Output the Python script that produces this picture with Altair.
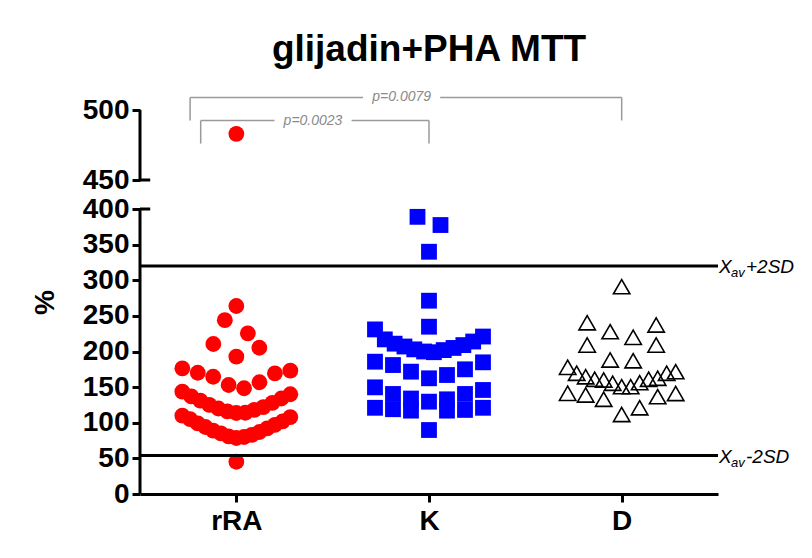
import altair as alt
import pandas as pd

# ---------------- data ----------------
CATEGORIES = ["rRA", "K", "D"]
RRA = [483, 263.9, 244, 225.5, 210.5, 205.3, 192.7, 176.4, 173.1, 170.2, 169.4,
       164.6, 156.8, 153, 148.4, 143.6, 140, 137, 134, 131, 128, 125, 122, 120,
       118, 116, 114, 113.7, 110, 108, 105, 102, 99, 97, 94, 92, 89, 87, 85, 83,
       81, 80, 78.6, 45.3]
K = [389, 377.5, 340, 271.3, 234.8, 231, 221, 217, 214, 211, 209, 207, 205, 203,
     202, 200, 199, 185.7, 184.8, 181, 175, 171.7, 167, 162.4, 149.7, 146, 140.4,
     140.4, 134, 132.9, 129.6, 121, 121, 119, 118, 117, 117, 89.8]
D = [291, 240.4, 237.2, 227.8, 219.9, 209, 209, 188, 187, 177.8, 171.7, 169.4,
     169.4, 164.6, 162.4, 161, 161, 160, 156.2, 155.4, 150.6, 150.6, 141.3, 141,
     139, 136.6, 133, 121, 111.5]
Y_TICKS = [0, 50, 100, 150, 200, 250, 300, 350, 400, 450, 500]
Y_SEGMENTS = [(0, 400), (450, 500)]      # broken axis: two pieces
REF_LINES = [320, 54]
REF_SIGNS = ["+2SD", "-2SD"]
P_TEXTS = ["p=0.0079", "p=0.0023"]
BRACKET_LEFT = [0.76, 0.815]
BRACKET_RIGHT = [3.0, 2.0]
BRACKET_TEXT_X = [1.858, 1.398]
BRACKET_TOP = [509, 492.5]
BRACKET_BOTTOM = [492.5, 476]
TITLE = "glijadin+PHA MTT"

# ---------------- layout parameters ----------------
W = 578
H = 384
FONT = "Liberation Sans"
PX_PER_X = W / 3.0
# piecewise y scale: lower part 0-400 (285 px), gap, upper part 450-500 (70 px)
Y_DOMAIN = [0, 400, 450, 500]
Y_RANGE = [H, 99, 70, 0]


def swarm(values, bin_units=32, d=23, wmax=108):
    """Prism-like column scatter: values binned, spread side by side."""
    vals = sorted(values)
    bins, cur, start = [], [], None
    for v in vals:
        if start is None or v > start + bin_units:
            if cur:
                bins.append(cur)
            cur, start = [v], v
        else:
            cur.append(v)
    bins.append(cur)
    out = []
    for b in bins:
        n = len(b)
        sp = d if n == 1 else min(d, wmax / (n - 1))
        if n % 2 == 1:
            slots = [0] + [s * k for k in range(1, n // 2 + 1) for s in (1, -1)]
        else:
            slots = [s * (k - 0.5) for k in range(1, n // 2 + 1) for s in (1, -1)]
        for v, sl in zip(b, slots):
            out.append((v, sl * sp / PX_PER_X))
    return out


rows = []
for i, (name, vals) in enumerate(zip(CATEGORIES, [RRA, K, D])):
    for v, off in swarm(vals):
        rows.append({"group": name, "value": v, "x": i + 1 + off})
pts = pd.DataFrame(rows)

xscale = alt.Scale(domain=[0.5, 3.5], nice=False, zero=False)
yscale = alt.Scale(domain=Y_DOMAIN, range=Y_RANGE, nice=False, zero=False)

label_expr = " : ".join(
    f"datum.value == {i + 1} ? '{c}'" for i, c in enumerate(CATEGORIES[:-1])
) + f" : '{CATEGORIES[-1]}'"

common_axis = dict(domainWidth=3, domainColor="black", tickWidth=3, tickColor="black",
                   tickSize=8, labelFont=FONT, labelFontWeight="bold", labelFontSize=28,
                   labelColor="black", grid=False)

xaxis = alt.Axis(values=[1, 2, 3], labelExpr=label_expr, labelPadding=5, title=None,
                 **common_axis)
yaxis = alt.Axis(values=Y_TICKS, labelPadding=3, title="%", domain=False,
                 titleFont=FONT, titleFontWeight="bold", titleFontSize=28,
                 titleColor="black", titleX=-95, titleY=192, titleAngle=270,
                 titleAlign="center", titleBaseline="middle", **common_axis)

X = lambda f: alt.X(f, scale=xscale, axis=xaxis)
Y = lambda f: alt.Y(f, scale=yscale, axis=yaxis)

STYLE = {
    "rRA": dict(shape="circle", filled=True, color="#ff0000", size=250),
    "K": dict(shape="square", filled=True, color="#0000ff", size=250),
    "D": dict(shape="triangle-up", filled=False, color="black", size=270, strokeWidth=1.6),
}

layers = []
for c in CATEGORIES:
    sub = pts[pts["group"] == c]
    layers.append(alt.Chart(sub).mark_point(opacity=1, **STYLE[c]).encode(
        x=X("x:Q"), y=Y("value:Q")))

# broken y axis line pieces and break caps
seg_df = pd.DataFrame({"y1": [s[0] for s in Y_SEGMENTS], "y2": [s[1] for s in Y_SEGMENTS],
                       "x": [0.5, 0.5]})
layers.append(alt.Chart(seg_df).mark_rule(color="black", strokeWidth=3).encode(
    x=X("x:Q"), y=Y("y1:Q"), y2="y2:Q"))
cap_df = pd.DataFrame({"y": [Y_SEGMENTS[0][1], Y_SEGMENTS[1][0]], "x1": [0.5, 0.5],
                       "x2": [0.553, 0.553]})
layers.append(alt.Chart(cap_df).mark_rule(color="black", strokeWidth=3).encode(
    x=X("x1:Q"), x2="x2:Q", y=Y("y:Q")))

# reference lines + labels
ref_df = pd.DataFrame({"y": REF_LINES, "x1": [0.5] * 2, "x2": [3.5] * 2, "sign": REF_SIGNS})
layers.append(alt.Chart(ref_df).mark_rule(color="black", strokeWidth=3).encode(
    x=X("x1:Q"), x2="x2:Q", y=Y("y:Q")))
txt_base = alt.Chart(ref_df).encode(x=X("x2:Q"), y=Y("y:Q"))
layers.append(txt_base.mark_text(text="X", font=FONT, fontStyle="italic", fontSize=19,
                                 align="left", baseline="middle", dx=1, dy=1, color="black"))
layers.append(txt_base.mark_text(text="av", font=FONT, fontStyle="italic", fontSize=13,
                                 align="left", baseline="middle", dx=13, dy=7, color="black"))
layers.append(txt_base.mark_text(font=FONT, fontStyle="italic", fontSize=19, align="left",
                                 baseline="middle", dx=28, dy=1, color="black").encode(
    text="sign:N"))

# significance brackets
GAP = 0.2
br_rows = []
for l, r, tx, top, bot in zip(BRACKET_LEFT, BRACKET_RIGHT, BRACKET_TEXT_X, BRACKET_TOP, BRACKET_BOTTOM):
    br_rows += [
        {"x1": l, "x2": tx - GAP, "y1": top, "y2": top},
        {"x1": tx + GAP, "x2": r, "y1": top, "y2": top},
        {"x1": l, "x2": l, "y1": top, "y2": bot},
        {"x1": r, "x2": r, "y1": top, "y2": bot},
    ]
layers.append(alt.Chart(pd.DataFrame(br_rows)).mark_rule(color="#9a9a9a", strokeWidth=1.5).encode(
    x=X("x1:Q"), x2="x2:Q", y=Y("y1:Q"), y2="y2:Q"))
ptxt_df = pd.DataFrame({"x": BRACKET_TEXT_X, "y": BRACKET_TOP, "t": P_TEXTS})
layers.append(alt.Chart(ptxt_df).mark_text(font=FONT, fontStyle="italic", fontSize=14,
                                           color="#8a8a8a", baseline="middle").encode(
    x=X("x:Q"), y=Y("y:Q"), text="t:N"))

chart = alt.layer(*layers).properties(
    width=W, height=H,
    title=alt.TitleParams(TITLE, font=FONT, fontSize=37, fontWeight="bold", color="black",
                          anchor="middle", frame="group", baseline="alphabetic", offset=-8),
    autosize=alt.AutoSizeParams(type="none"),
    padding={"left": 140, "top": 110, "right": 94, "bottom": 64},
).configure_view(strokeWidth=0, stroke="transparent")

chart.save("out.html", embed_options={"renderer": "svg", "actions": False})
